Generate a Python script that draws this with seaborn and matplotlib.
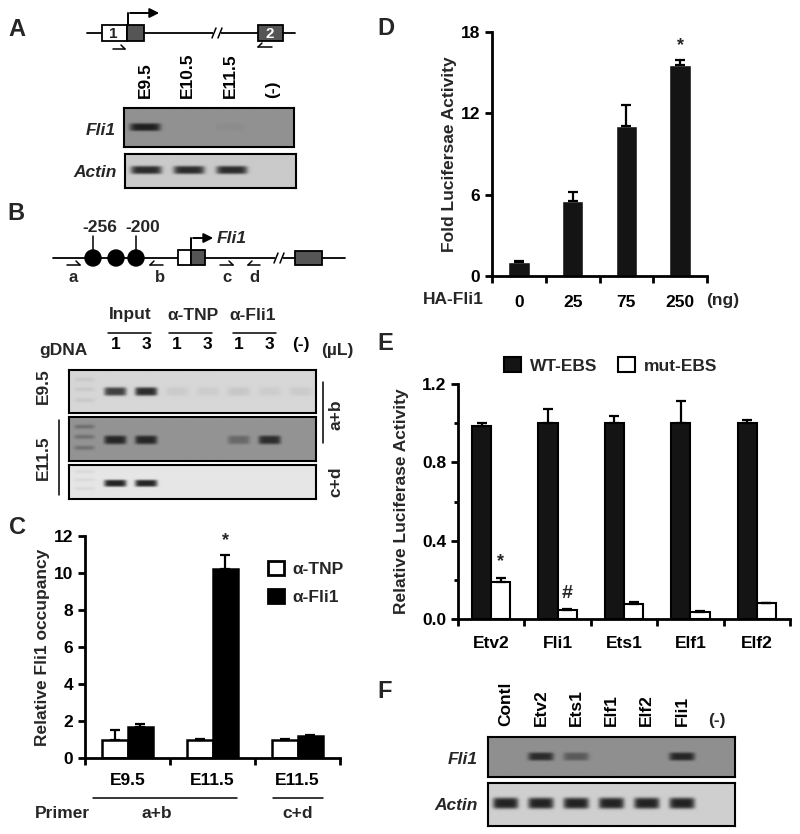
import numpy as np
import pandas as pd
import matplotlib
matplotlib.use("Agg")
import matplotlib.pyplot as plt
import seaborn as sns
from matplotlib.patches import Rectangle, Circle

# ---------------- data ----------------
# A: RT-PCR, band strength per lane
a_lanes = ["E9.5", "E10.5", "E11.5", "(-)"]
a_fli1_bands = [0.95, 0.0, 0.04, 0.0]
a_actin_bands = [0.9, 0.9, 0.9, 0.0]

# B: ChIP gels, lane 0 is the ladder
b_lanes = ["", "1", "3", "1", "3", "1", "3", "(-)"]
b_e95_bands = [0.0, 0.8, 0.9, 0.06, 0.05, 0.08, 0.05, 0.06]
b_e115_ab_bands = [0.0, 0.9, 0.9, 0.0, 0.0, 0.35, 0.85, 0.0]
b_e115_cd_bands = [0.0, 0.95, 0.95, 0.0, 0.0, 0.0, 0.0, 0.0]
b_ladder = [0.07, 0.3, 0.06]

# C: ChIP-qPCR
c_groups = ["E9.5 a+b", "E11.5 a+b", "E11.5 c+d"]
c_ticklabels = ["E9.5", "E11.5", "E11.5"]
c_tnp = [1.0, 1.0, 1.0]
c_tnp_err = [0.52, 0.05, 0.05]
c_fli1 = [1.7, 10.2, 1.2]
c_fli1_err = [0.13, 0.75, 0.02]

# D: dose response
d_dose = ["0", "25", "75", "250"]
d_fold = [1.0, 5.55, 11.05, 15.6]
d_err = [0.12, 0.62, 1.55, 0.3]

# E: WT vs mutant EBS
e_factors = ["Etv2", "Fli1", "Ets1", "Elf1", "Elf2"]
e_wt = [0.985, 1.0, 1.0, 1.0, 1.0]
e_wt_err = [0.015, 0.07, 0.035, 0.115, 0.015]
e_mut = [0.19, 0.046, 0.075, 0.034, 0.08]
e_mut_err = [0.018, 0.003, 0.013, 0.006, 0.003]

# F: RT-PCR
f_lanes = ["Contl", "Etv2", "Ets1", "Elf1", "Elf2", "Fli1", "(-)"]
f_fli1_bands = [0.0, 0.85, 0.45, 0.0, 0.0, 0.9, 0.0]
f_actin_bands = [0.95, 0.95, 0.95, 0.95, 0.95, 0.95, 0.0]

# ---------------- style ----------------
sns.set_style("ticks")
plt.rcParams['font.family'] = ['Liberation Sans', 'DejaVu Sans']
plt.rcParams['font.weight'] = 'bold'
plt.rcParams['font.size'] = 12.5
plt.rcParams['axes.labelweight'] = 'bold'
plt.rcParams['axes.edgecolor'] = 'black'
plt.rcParams['xtick.color'] = 'black'
plt.rcParams['ytick.color'] = 'black'

W, H = 800, 834
fig = plt.figure(figsize=(W / 100, H / 100), dpi=100)


def px_axes(x0, y0, x1, y1):
    return fig.add_axes([x0 / W, 1 - y1 / H, (x1 - x0) / W, (y1 - y0) / H])


def gel(ax, bands, bg, band_y=0.5, thick=0.1, ladder=0.0, dark=0.1):
    n = len(bands)
    xs = (np.arange(n * 40) + 0.5) / 40 - 0.5
    ys = (np.arange(80) + 0.5) / 80
    X, Y = np.meshgrid(xs, ys)
    dens = np.zeros_like(X)
    for i, v in enumerate(bands):
        dens += v * np.exp(-((X - i) / 0.36) ** 6) * np.exp(-((Y - band_y) / thick) ** 4)
    if ladder:
        for yy in (0.22, 0.45, 0.7):
            dens += ladder * np.exp(-(X / 0.33) ** 6) * np.exp(-((Y - yy) / 0.05) ** 2)
    img = bg - np.clip(dens, 0, 1) * (bg - dark)
    ax.imshow(img, cmap="gray", vmin=0, vmax=1, aspect="auto",
              extent=(-0.5, n - 0.5, 1, 0), interpolation="bilinear")
    ax.set_xlim(-0.5, n - 0.5)
    ax.set_ylim(1, 0)
    ax.set_yticks([])
    ax.set_xticks([])
    for s in ax.spines.values():
        s.set_visible(True)
        s.set_linewidth(1.5)
        s.set_color("black")


def lane_labels(ax, labels, pad, rotation=90):
    ax.xaxis.tick_top()
    ax.set_xticks(range(len(labels)))
    ax.set_xticklabels(labels, rotation=rotation, fontweight="bold")
    ax.tick_params(axis="x", length=0, pad=pad)


def style_bar_axes(ax):
    sns.despine(ax=ax)
    for s in ("left", "bottom"):
        ax.spines[s].set_linewidth(2)
    ax.tick_params(axis="both", which="major", width=2, length=5, direction="out")


def up_errors(ax, containers, errs):
    for cont, err in zip(containers, errs):
        xs = [b.get_x() + b.get_width() / 2 for b in cont]
        ys = [b.get_height() for b in cont]
        ax.errorbar(xs, ys, yerr=[np.zeros(len(err)), err], fmt="none", ecolor="black",
                    elinewidth=1.6, capsize=3.5, capthick=1.6, zorder=3)


# overlay for schematics and free text, in pixel units
ov = fig.add_axes([0, 0, 1, 1])
ov.set_xlim(0, W)
ov.set_ylim(H, 0)
ov.axis("off")

for lab, (x, y) in {"A": (17, 29), "B": (16, 213), "C": (17, 527),
                    "D": (386, 28), "E": (385, 343), "F": (385, 691)}.items():
    ov.text(x, y, lab, fontsize=17, fontweight="bold", ha="center", va="center")


def primer(x0, x1, y, fwd=True):
    ov.plot([x0, x1], [y, y], color="black", lw=1.1)
    if fwd:
        ov.plot([x1, x1 - 4], [y, y - 4], color="black", lw=1.1)
    else:
        ov.plot([x0, x0 + 4], [y, y - 4], color="black", lw=1.1)


def brk(x, y):
    ov.add_patch(Rectangle((x - 4, y - 2), 8, 4, facecolor="white", edgecolor="none", zorder=3))
    ov.plot([x - 5, x - 1], [y + 5, y - 5], color="black", lw=1.1, zorder=4)
    ov.plot([x + 1, x + 5], [y + 5, y - 5], color="black", lw=1.1, zorder=4)


def tss(x, ybox, ytop, xend):
    ov.plot([x, x], [ybox, ytop], color="black", lw=1.4)
    ov.annotate("", xy=(xend, ytop), xytext=(x - 0.7, ytop),
                arrowprops=dict(arrowstyle="-|>", lw=1.4, color="black", mutation_scale=14))


# ---- A schematic ----
ov.plot([87, 295], [33, 33], color="black", lw=1.3)
ov.add_patch(Rectangle((102, 25), 25, 16, facecolor="white", edgecolor="black", lw=1.3, zorder=3))
ov.add_patch(Rectangle((127, 25), 17, 16, facecolor="#555555", edgecolor="black", lw=1.3, zorder=3))
ov.add_patch(Rectangle((258, 25), 25, 16, facecolor="#555555", edgecolor="black", lw=1.3, zorder=3))
ov.text(113, 33.5, "1", fontsize=11, ha="center", va="center", zorder=4)
ov.text(270, 33.5, "2", fontsize=11, ha="center", va="center", color="white", zorder=4)
brk(217, 33)
tss(128, 25, 13, 162)
primer(113, 125, 49, fwd=True)
primer(258, 272, 47, fwd=False)

ax_a1 = px_axes(124, 108, 294, 147)
gel(ax_a1, a_fli1_bands, bg=0.57, band_y=0.49)
lane_labels(ax_a1, a_lanes, pad=7)
ax_a2 = px_axes(125, 154, 296, 188)
gel(ax_a2, a_actin_bands, bg=0.79, band_y=0.47, thick=0.12)
ov.text(116, 130, "Fli1", style="italic", ha="right", va="center")
ov.text(117, 172, "Actin", style="italic", ha="right", va="center")

# ---- B schematic ----
ov.plot([53, 345], [258, 258], color="black", lw=1.3)
for cx in (93, 116, 136):
    ov.add_patch(Circle((cx, 258), 8, facecolor="black", edgecolor="black", zorder=3))
ov.plot([93, 93], [250, 236], color="black", lw=1.1)
ov.plot([136, 136], [250, 236], color="black", lw=1.1)
ov.text(100, 227, "-256", ha="center", va="center")
ov.text(143, 227, "-200", ha="center", va="center")
ov.add_patch(Rectangle((178, 250), 13, 15, facecolor="white", edgecolor="black", lw=1.3, zorder=3))
ov.add_patch(Rectangle((191, 250), 14, 15, facecolor="#555555", edgecolor="black", lw=1.3, zorder=3))
ov.add_patch(Rectangle((295, 251), 27, 14, facecolor="#555555", edgecolor="black", lw=1.3, zorder=3))
tss(191, 250, 238, 216)
ov.text(217, 238, "Fli1", style="italic", ha="left", va="center")
brk(279, 258)
primer(67, 80, 265, True)
primer(150, 163, 265, False)
primer(220, 233, 265, True)
primer(248, 260, 265, False)
for t, x in zip("abcd", (73, 160, 227, 254)):
    ov.text(x, 277, t, ha="center", va="center", fontsize=12)

for t, x, (l0, l1) in zip(["Input", "\u03b1-TNP", "\u03b1-Fli1"], (130, 193, 253),
                          [(108, 151), (169, 212), (233, 276)]):
    ov.text(x, 315, t, ha="center", va="center")
    ov.plot([l0, l1], [333, 333], color="black", lw=1.1)
ov.text(63, 350, "gDNA", ha="center", va="center")
ov.text(337, 350, "(\u00b5L)", ha="center", va="center")

ax_b1 = px_axes(69, 370, 316, 413)
gel(ax_b1, b_e95_bands, bg=0.84, band_y=0.5, ladder=b_ladder[0])
lane_labels(ax_b1, b_lanes, pad=13, rotation=0)
ax_b2 = px_axes(69, 417, 316, 461)
gel(ax_b2, b_e115_ab_bands, bg=0.58, band_y=0.52, ladder=b_ladder[1])
ax_b3 = px_axes(69, 465, 316, 499)
gel(ax_b3, b_e115_cd_bands, bg=0.9, band_y=0.55, ladder=b_ladder[2])

ov.text(43, 386, "E9.5", rotation=90, ha="center", va="center")
ov.text(43, 458, "E11.5", rotation=90, ha="center", va="center")
ov.plot([59, 59], [420, 495], color="black", lw=1.1)
ov.plot([323, 323], [382, 443], color="black", lw=1.1)
ov.text(336, 415, "a+b", rotation=90, ha="center", va="center")
ov.text(336, 482, "c+d", rotation=90, ha="center", va="center")

# ---- C: ChIP-qPCR ----
df_c = pd.DataFrame({
    "group": c_groups * 2,
    "antibody": ["\u03b1-TNP"] * 3 + ["\u03b1-Fli1"] * 3,
    "value": c_tnp + c_fli1,
})
axc = px_axes(85, 536, 340, 758)
sns.barplot(data=df_c, x="group", y="value", hue="antibody",
            palette={"\u03b1-TNP": "white", "\u03b1-Fli1": "black"},
            edgecolor="black", linewidth=1.8, width=0.6, errorbar=None,
            legend=False, ax=axc)
up_errors(axc, axc.containers, [c_tnp_err, c_fli1_err])
style_bar_axes(axc)
axc.set_ylim(0, 12)
axc.set_yticks(range(0, 13, 2))
axc.set_xlim(-0.5, 2.5)
axc.set_xticks([-0.5, 0.5, 1.5, 2.5])
axc.set_xticklabels([])
axc.set_xticks([0, 1, 2], minor=True)
axc.set_xticklabels(c_ticklabels, minor=True)
axc.tick_params(axis="x", which="minor", length=0, pad=11)
axc.set_xlabel("")
axc.set_ylabel("Relative Fli1 occupancy", labelpad=3)
fli_bar = axc.containers[1][1]
axc.text(fli_bar.get_x() + fli_bar.get_width() / 2, c_fli1[1] + c_fli1_err[1] + 0.35, "*",
         ha="center", va="bottom", fontsize=13)
c_handles = [Rectangle((0, 0), 1, 1, facecolor="white", edgecolor="black", lw=2),
             Rectangle((0, 0), 1, 1, facecolor="black", edgecolor="black", lw=2)]
axc.legend(c_handles, ["\u03b1-TNP", "\u03b1-Fli1"], loc="upper left", bbox_to_anchor=(0.69, 0.92),
           frameon=False, handlelength=0.9, handleheight=0.9, handletextpad=0.5,
           labelspacing=0.7, fontsize=12.5, borderaxespad=0)

ov.plot([93, 237], [798, 798], color="black", lw=1.1)
ov.plot([273, 323], [798, 798], color="black", lw=1.1)
ov.text(62, 813, "Primer", ha="center", va="center")
ov.text(157, 813, "a+b", ha="center", va="center")
ov.text(298, 813, "c+d", ha="center", va="center")

# ---- D: dose response ----
df_d = pd.DataFrame({"dose": d_dose, "fold": d_fold})
axd = px_axes(492, 32, 707, 276)
sns.barplot(data=df_d, x="dose", y="fold", color="#141414", saturation=1,
            width=0.4, errorbar=None, ax=axd)
up_errors(axd, axd.containers, [d_err])
style_bar_axes(axd)
axd.set_ylim(0, 18)
axd.set_yticks([0, 6, 12, 18])
axd.set_xlim(-0.5, 3.5)
axd.set_xticks([-0.5, 0.5, 1.5, 2.5, 3.5])
axd.set_xticklabels([])
axd.set_xticks(range(len(d_dose)), minor=True)
axd.set_xticklabels(d_dose, minor=True)
axd.tick_params(axis="x", which="minor", length=0, pad=14)
axd.set_xlabel("")
axd.set_ylabel("Fold Lucifersae Activity", labelpad=3)
last = axd.containers[0][3]
axd.text(last.get_x() + last.get_width() / 2, d_fold[3] + d_err[3] + 0.5, "*",
         ha="center", va="bottom", fontsize=13)
ov.text(453, 300, "HA-Fli1", ha="center", va="center")
ov.text(723, 300, "(ng)", ha="center", va="center")

# ---- E: WT vs mut EBS ----
df_e = pd.DataFrame({
    "factor": e_factors * 2,
    "construct": ["WT-EBS"] * 5 + ["mut-EBS"] * 5,
    "value": e_wt + e_mut,
})
axe = px_axes(458, 384, 790, 619)
sns.barplot(data=df_e, x="factor", y="value", hue="construct",
            palette={"WT-EBS": "#141414", "mut-EBS": "white"}, saturation=1,
            edgecolor="black", linewidth=1.5, width=0.58, errorbar=None,
            legend=False, ax=axe)
up_errors(axe, axe.containers, [e_wt_err, e_mut_err])
style_bar_axes(axe)
axe.set_ylim(0, 1.2)
axe.set_yticks([0, 0.4, 0.8, 1.2])
axe.set_yticklabels(["0.0", "0.4", "0.8", "1.2"])
axe.set_yticks([0.2, 0.6, 1.0], minor=True)
axe.tick_params(axis="y", which="minor", length=3, width=2)
axe.set_xlim(-0.5, 4.5)
axe.set_xticks(np.arange(-0.5, 5, 1))
axe.set_xticklabels([])
axe.set_xticks(range(5), minor=True)
axe.set_xticklabels(e_factors, minor=True)
axe.tick_params(axis="x", which="minor", length=0, pad=12)
axe.set_xlabel("")
axe.set_ylabel("Relative Luciferase Activity", labelpad=9)
for i, mark in ((0, "*"), (1, "#")):
    b = axe.containers[1][i]
    axe.text(b.get_x() + b.get_width() / 2, e_mut[i] + e_mut_err[i] + 0.04, mark,
             ha="center", va="bottom", fontsize=13 if mark == "*" else 14)
e_handles = [Rectangle((0, 0), 1, 1, facecolor="#141414", edgecolor="black", lw=1.5),
             Rectangle((0, 0), 1, 1, facecolor="white", edgecolor="black", lw=1.5)]
axe.legend(e_handles, ["WT-EBS", "mut-EBS"], loc="center", bbox_to_anchor=(0.46, 1.08),
           ncol=2, frameon=False, handlelength=1.0, handleheight=1.0, handletextpad=0.5,
           columnspacing=1.2, fontsize=12.5, borderaxespad=0)

# ---- F: RT-PCR ----
ax_f1 = px_axes(488, 737, 735, 777)
gel(ax_f1, f_fli1_bands, bg=0.56, band_y=0.5)
lane_labels(ax_f1, f_lanes[:-1] + [""], pad=8)
ax_f2 = px_axes(488, 783, 735, 826)
gel(ax_f2, f_actin_bands, bg=0.81, band_y=0.47, thick=0.13)
ov.text(ax_f1.get_position().x1 * W - 247 / 14, 720, f_lanes[-1], ha="center", va="center")
ov.text(478, 760, "Fli1", style="italic", ha="right", va="center")
ov.text(478, 806, "Actin", style="italic", ha="right", va="center")

fig.savefig("out.png", dpi=100)
